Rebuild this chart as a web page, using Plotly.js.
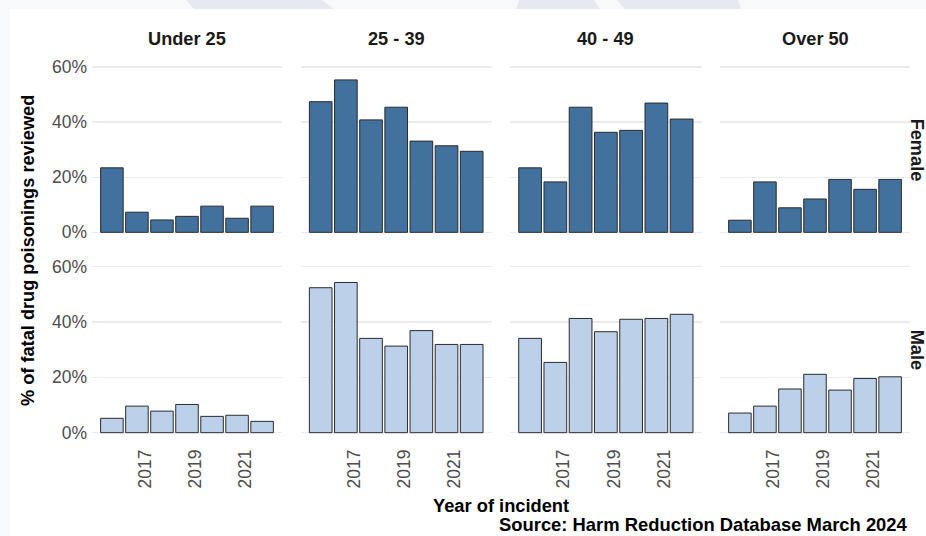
<!DOCTYPE html>
<html>
<head>
<meta charset="utf-8">
<script src="https://cdn.plot.ly/plotly-3.0.1.min.js"></script>
<style>html,body{margin:0;padding:0;background:#fff;}#chart{width:926px;height:536px;}</style>
</head>
<body>
<div id="chart"></div>
<script>
// ---- data ----
const years = [2016, 2017, 2018, 2019, 2020, 2021, 2022];
const ageGroups = ["Under 25", "25 - 39", "40 - 49", "Over 50"];
const sexes = ["Female", "Male"];
const female_under25 = [23.4, 7.3, 4.5, 5.8, 9.5, 5.1, 9.5];
const female_25_39   = [47.4, 55.3, 40.8, 45.4, 33.1, 31.4, 29.4];
const female_40_49   = [23.4, 18.3, 45.4, 36.3, 37.0, 46.9, 41.1];
const female_over50  = [4.4, 18.3, 8.9, 12.1, 19.2, 15.6, 19.2];
const male_under25   = [5.2, 9.6, 7.8, 10.2, 5.9, 6.3, 4.1];
const male_25_39     = [52.4, 54.3, 34.1, 31.3, 36.9, 31.9, 31.9];
const male_40_49     = [34.1, 25.4, 41.3, 36.5, 41.0, 41.3, 42.8];
const male_over50    = [7.1, 9.6, 15.8, 21.1, 15.4, 19.6, 20.2];
const yTickVals = [0, 20, 40, 60];
const yTickText = ["0%", "20%", "40%", "60%"];
const xTickVals = [2017, 2019, 2021];
const xTickText = ["2017", "2019", "2021"];
const yTitle = "% of fatal drug poisonings reviewed";
const xTitle = "Year of incident";
const source = "Source: Harm Reduction Database March 2024";

const seriesBySex = {
  Female: [female_under25, female_25_39, female_40_49, female_over50],
  Male: [male_under25, male_25_39, male_40_49, male_over50]
};
const colors = {Female: "#41719c", Male: "#bcd0ea"};

// ---- layout geometry (px) ----
const W = 926, H = 536;
const px = v => v / W;
const py = v => (H - v) / H;
const colPx = [[92, 282], [300.7, 491.7], [510, 701.7], [720, 910]];
const rowPx = [[58.7, 240.6], [258.4, 441]];

const FONT = "Liberation Sans, Arial, sans-serif";
const traces = [];
const layout = {
  width: W, height: H,
  margin: {l: 0, r: 0, t: 0, b: 0},
  paper_bgcolor: "#ffffff",
  plot_bgcolor: "rgba(0,0,0,0)",
  showlegend: false,
  bargap: 0.1,
  font: {family: FONT, color: "#4d4d4d"},
  annotations: [],
  shapes: []
};

let idx = 0;
sexes.forEach((sex, r) => {
  ageGroups.forEach((ag, c) => {
    idx++;
    const xa = "x" + (idx === 1 ? "" : idx);
    const ya = "y" + (idx === 1 ? "" : idx);
    traces.push({
      type: "bar",
      x: years,
      y: seriesBySex[sex][c],
      xaxis: xa, yaxis: ya,
      width: 0.9,
      marker: {color: colors[sex], line: {color: "#2b2b2b", width: 1}},
      hoverinfo: "x+y"
    });
    const xkey = "xaxis" + (idx === 1 ? "" : idx);
    const ykey = "yaxis" + (idx === 1 ? "" : idx);
    layout[xkey] = {
      domain: [px(colPx[c][0]), px(colPx[c][1])],
      anchor: ya,
      range: [2015.205, 2022.795],
      showgrid: false, zeroline: false, showline: false,
      ticks: "",
      tickvals: xTickVals, ticktext: xTickText,
      showticklabels: r === 1,
      tickangle: -90,
      ticklabelshift: 8,
      ticklabelstandoff: 4,
      tickfont: {family: FONT, size: 17.5, color: "#4d4d4d"},
      fixedrange: true
    };
    layout[ykey] = {
      domain: [py(rowPx[r][1]), py(rowPx[r][0])],
      anchor: xa,
      range: [-3, 63],
      showgrid: true, gridcolor: "#ebebeb", gridwidth: 1.2,
      zeroline: false, showline: false,
      ticks: "",
      tickvals: yTickVals, ticktext: yTickText,
      showticklabels: c === 0,
      ticklabelstandoff: 4,
      tickfont: {family: FONT, size: 17.5, color: "#4d4d4d"},
      fixedrange: true
    };
    if (r === 0) {
      layout.annotations.push({
        text: "<b>" + ag + "</b>", xref: "paper", yref: "paper",
        x: px((colPx[c][0] + colPx[c][1]) / 2), y: py(39),
        xanchor: "center", yanchor: "middle", showarrow: false,
        font: {family: FONT, size: 18.2, color: "#1a1a1a"}
      });
    }
  });
  layout.annotations.push({
    text: "<b>" + sex + "</b>", xref: "paper", yref: "paper",
    x: px(917), y: py((rowPx[r][0] + rowPx[r][1]) / 2),
    xanchor: "center", yanchor: "middle", showarrow: false, textangle: 90,
    font: {family: FONT, size: 18.2, color: "#1a1a1a"}
  });
});

layout.annotations.push({
  text: "<b>" + xTitle + "</b>", xref: "paper", yref: "paper",
  x: px(501), y: py(505), xanchor: "center", yanchor: "middle", showarrow: false,
  font: {family: FONT, size: 18.3, color: "#000000"}
});
layout.annotations.push({
  text: "<b>" + yTitle + "</b>", xref: "paper", yref: "paper",
  x: px(28), y: py(251), xanchor: "center", yanchor: "middle", showarrow: false,
  textangle: -90,
  font: {family: FONT, size: 18.2, color: "#000000"}
});
layout.annotations.push({
  text: "<b>" + source + "</b>", xref: "paper", yref: "paper",
  x: px(910), y: py(524.5), xanchor: "right", yanchor: "middle", showarrow: false,
  font: {family: FONT, size: 18.4, color: "#000000"}
});

// background remnants of the screenshot (top band and left strip)
function poly(pts, color) {
  const d = pts.map((p, i) => (i ? "L" : "M") + px(p[0]).toFixed(5) + "," + py(p[1]).toFixed(5)).join(" ") + " Z";
  return {type: "path", xref: "paper", yref: "paper", path: d, fillcolor: color, line: {width: 0}, layer: "below"};
}
layout.shapes.push(poly([[0, 0], [926, 0], [926, 9], [0, 9]], "#f8f9fa"));
layout.shapes.push(poly([[0, 0], [10, 0], [10, 536], [0, 536]], "#f8f9fa"));
layout.shapes.push(poly([[186, 0], [322, 0], [334, 9], [194, 9]], "#e6e9ef"));
layout.shapes.push(poly([[519, 0], [594, 0], [600, 9], [516, 9]], "#e6e9ef"));
layout.shapes.push(poly([[617, 0], [738, 0], [741, 9], [625, 9]], "#e6e9ef"));

Plotly.newPlot("chart", traces, layout, {displayModeBar: false, staticPlot: true});
</script>
</body>
</html>
